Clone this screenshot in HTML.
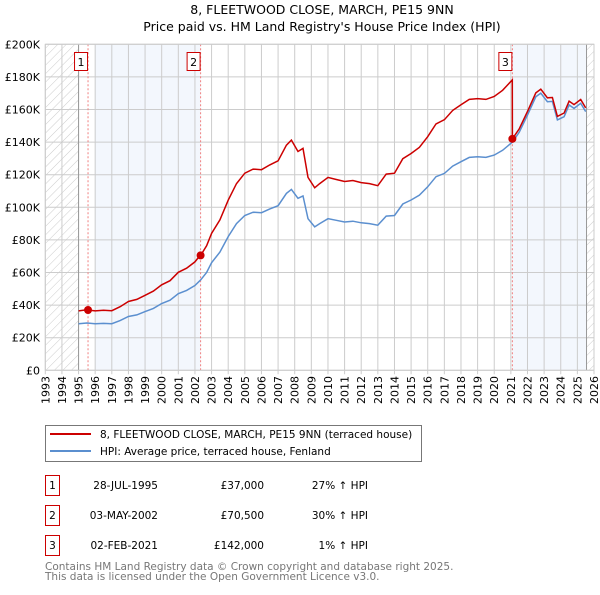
<!DOCTYPE html>
<html><head><meta charset="utf-8"><style>
body{margin:0;background:#fff;}
svg text{font-family:"DejaVu Sans","Liberation Sans",sans-serif;}
</style></head><body>
<svg id="c" width="600" height="590" xmlns="http://www.w3.org/2000/svg">
<defs><pattern id="hatch" width="6" height="6" patternUnits="userSpaceOnUse" patternTransform="rotate(45)"><line x1="0" y1="0" x2="0" y2="6" stroke="#ccc" stroke-width="1"/></pattern></defs>
<text x="322" y="14" font-size="12.5" text-anchor="middle">8, FLEETWOOD CLOSE, MARCH, PE15 9NN</text>
<text x="322" y="31" font-size="12.5" text-anchor="middle">Price paid vs. HM Land Registry's House Price Index (HPI)</text>
<g id="plot"></g>
<g>
<rect x="45.5" y="425.5" width="376" height="36" fill="#fff" stroke="#777"/>
<line x1="50" y1="434" x2="91" y2="434" stroke="#cc0000" stroke-width="2"/>
<text x="100" y="438" font-size="10.5">8, FLEETWOOD CLOSE, MARCH, PE15 9NN (terraced house)</text>
<line x1="50" y1="451" x2="91" y2="451" stroke="#5b8fcf" stroke-width="2"/>
<text x="100" y="455" font-size="10.5">HPI: Average price, terraced house, Fenland</text>
</g>
<g id="table" font-size="10.5"></g>
<text x="45" y="570" font-size="10.5" fill="#777">Contains HM Land Registry data © Crown copyright and database right 2025.</text>
<text x="45" y="580" font-size="10.5" fill="#777">This data is licensed under the Open Government Licence v3.0.</text>
</svg>
<script>
const hpiYears=[1995.0,1995.5,1996,1996.5,1997,1997.5,1998,1998.5,1999,1999.5,2000,2000.5,2001,2001.5,2002,2002.35,2002.7,2003,2003.5,2004,2004.5,2005,2005.5,2006,2006.5,2007,2007.5,2007.8,2008.2,2008.5,2008.8,2009.2,2009.5,2010,2010.5,2011,2011.5,2012,2012.5,2013,2013.5,2014,2014.5,2015,2015.5,2016,2016.5,2017,2017.5,2018,2018.5,2019,2019.5,2020,2020.5,2021.09,2021.5,2022,2022.5,2022.8,2023.2,2023.5,2023.8,2024.2,2024.5,2024.8,2025.2,2025.5];
const hpiValues=[28.5,29,28.5,28.8,28.6,30.5,33,34,36,38,41,43,47,49,52,55.5,60,66,72.5,82,90,95,97,96.7,99,101,108.5,111,105.5,107,93,88,90,93,92,91,91.5,90.5,90,89,94.6,95,102,104.5,107.5,112.6,118.8,120.8,125.3,128,130.6,131,130.6,132,135,140,146,156.6,167.8,170,164.8,165,153.6,155.6,162.8,160.7,163.8,158.7];
const saleYears=[1995.57,2002.34,2021.09];
const salePrices=[37000,70500,142000];
const saleLabels=["1","2","3"];
const saleDates=["28-JUL-1995","03-MAY-2002","02-FEB-2021"];
const salePriceText=["£37,000","£70,500","£142,000"];
const saleHpiText=["27% ↑ HPI","30% ↑ HPI","1% ↑ HPI"];
const yTicks=[0,20000,40000,60000,80000,100000,120000,140000,160000,180000,200000];
const yTickLabels=["£0","£20K","£40K","£60K","£80K","£100K","£120K","£140K","£160K","£180K","£200K"];
const xTicks=[1993,1994,1995,1996,1997,1998,1999,2000,2001,2002,2003,2004,2005,2006,2007,2008,2009,2010,2011,2012,2013,2014,2015,2016,2017,2018,2019,2020,2021,2022,2023,2024,2025,2026];

const NS="http://www.w3.org/2000/svg";
const X0=45.3,X1=594,Y0=370.3,Y1=44.3;
const xs=t=>X0+(t-1993)/(2026-1993)*(X1-X0);
const ys=v=>Y0-v/200000*(Y0-Y1);
const plot=document.getElementById('plot');
function mk(tag,attrs,parent){const e=document.createElementNS(NS,tag);for(const k in attrs)e.setAttribute(k,attrs[k]);(parent||plot).appendChild(e);return e;}
function hpiAt(t){for(let i=0;i<hpiYears.length-1;i++){if(t>=hpiYears[i]&&t<=hpiYears[i+1]){const f=(t-hpiYears[i])/(hpiYears[i+1]-hpiYears[i]);return (hpiValues[i]+f*(hpiValues[i+1]-hpiValues[i]))*1000;}}return hpiValues[hpiValues.length-1]*1000;}

let e;
e=mk('rect',{x:xs(1996),y:Y1,width:xs(saleYears[1])-xs(1996),height:Y0-Y1,fill:'#eef3fc',opacity:0.7});


e=mk('rect',{x:xs(saleYears[2]),y:Y1,width:xs(2025.55)-xs(saleYears[2]),height:Y0-Y1,fill:'#eef3fc',opacity:0.7});


e=mk('rect',{x:X0,y:Y1,width:xs(1995)-X0,height:Y0-Y1,fill:'url(#hatch)'});


e=mk('rect',{x:xs(2025.55),y:Y1,width:X1-xs(2025.55),height:Y0-Y1,fill:'url(#hatch)'});


yTicks.forEach((v,i)=>{
  const g=mk('line',{x1:X0,x2:X1,y1:ys(v),y2:ys(v),stroke:'#ccc','stroke-width':1});
  
  
  const t=mk('text',{x:40,y:ys(v)+4,'font-size':11,'text-anchor':'end'});t.textContent=yTickLabels[i];
  
  
});
xTicks.forEach(yr=>{
  const g=mk('line',{x1:xs(yr),x2:xs(yr),y1:Y1,y2:Y0+4,stroke:'#ccc','stroke-width':1});
  
  
  const t=mk('text',{x:xs(yr)+4,y:376,'font-size':11,'text-anchor':'end',transform:`rotate(-90 ${xs(yr)+4} 376)`});t.textContent=yr;
  
  
});
e=mk('line',{x1:xs(1995),x2:xs(1995),y1:Y1,y2:Y0,stroke:'#999','stroke-width':1});


e=mk('line',{x1:xs(2025.55),x2:xs(2025.55),y1:Y1,y2:Y0,stroke:'#999','stroke-width':1});


saleYears.forEach((s,i)=>{
  const l=mk('line',{x1:xs(s),x2:xs(s),y1:Y1,y2:Y0,stroke:'#f08080','stroke-width':1,'stroke-dasharray':'2,2'});
  
  
});
let d='';hpiYears.forEach((t,i)=>{d+=(i?'L':'M')+xs(t).toFixed(1)+','+ys(hpiValues[i]*1000).toFixed(1);});
e=mk('path',{d:d,fill:'none',stroke:'#5b8fcf','stroke-width':1.5});


function saleIdx(t){let k=0;for(let i=0;i<saleYears.length;i++)if(t>=saleYears[i])k=i;return k;}
let pts=[];
hpiYears.forEach((t,i)=>{const k=saleIdx(t);pts.push([t,hpiValues[i]*1000*salePrices[k]/hpiAt(saleYears[k])]);});
saleYears.forEach((s,k)=>{
  if(k>0){pts.push([s-0.001,hpiAt(s)*salePrices[k-1]/hpiAt(saleYears[k-1])]);}
  pts.push([s,salePrices[k]]);
});
pts.sort((a,b)=>a[0]-b[0]);
d='';pts.forEach((p,i)=>{d+=(i?'L':'M')+xs(p[0]).toFixed(1)+','+ys(p[1]).toFixed(1);});
e=mk('path',{d:d,fill:'none',stroke:'#cc0000','stroke-width':1.5});


saleYears.forEach((s,i)=>{
  const c=mk('circle',{cx:xs(s),cy:ys(salePrices[i]),r:4,fill:'#cc0000'});
  
  
  const bx=xs(s)-14;
  const r=mk('rect',{x:bx+0.5,y:52.5,width:13,height:18,fill:'#fff',stroke:'#cc0000'});
  
  
  const t=mk('text',{x:bx+7,y:66,'font-size':11,'text-anchor':'middle'});t.textContent=saleLabels[i];
  
  
});
mk('rect',{x:X0,y:Y1,width:X1-X0,height:Y0-Y1,fill:'none',stroke:'#ccc'});
const tb=document.getElementById('table');
saleYears.forEach((s,i)=>{
  const y0=475+i*30;
  const r=mk('rect',{x:45.5,y:y0+0.5,width:14,height:20,fill:'#fff',stroke:'#cc0000'},tb);
  
  
  let t=mk('text',{x:52.5,y:y0+14,'text-anchor':'middle'},tb);t.textContent=saleLabels[i];
  
  
  t=mk('text',{x:158,y:y0+14,'text-anchor':'end'},tb);t.textContent=saleDates[i];
  
  
  t=mk('text',{x:264,y:y0+14,'text-anchor':'end'},tb);t.textContent=salePriceText[i];
  
  
  t=mk('text',{x:368,y:y0+14,'text-anchor':'end'},tb);t.textContent=saleHpiText[i];
  
  
});
</script>
</body></html>
